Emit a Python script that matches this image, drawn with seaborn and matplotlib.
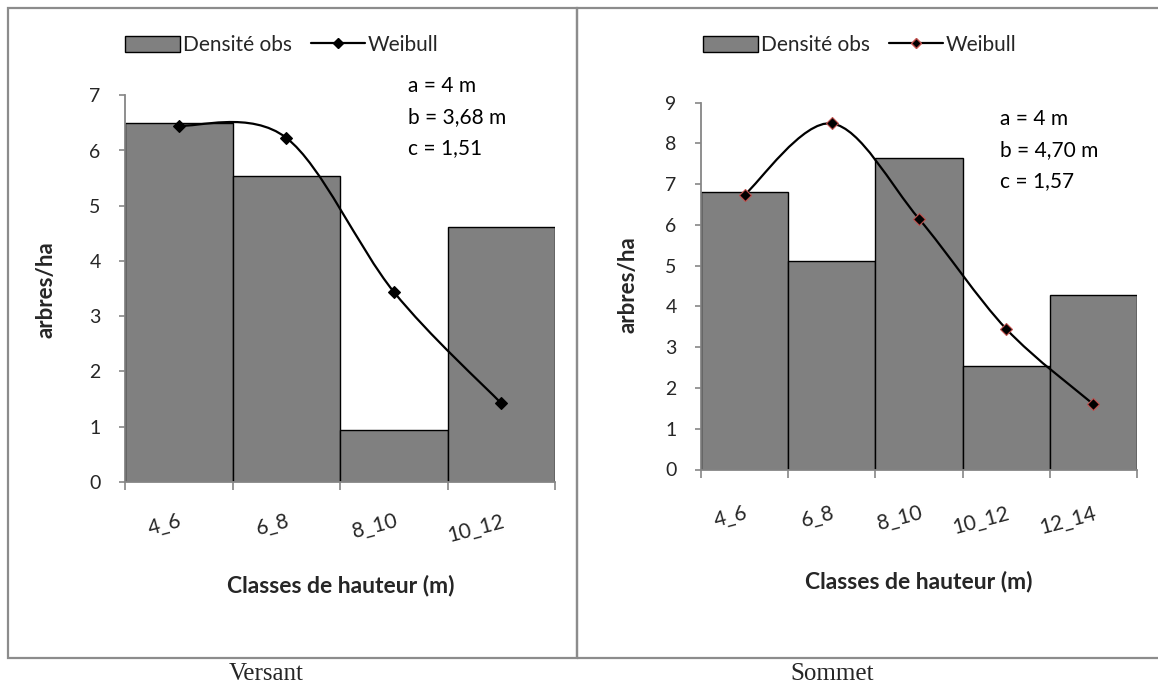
import numpy as np
import pandas as pd
import matplotlib
matplotlib.use("Agg")
import matplotlib.pyplot as plt
from matplotlib.path import Path
from matplotlib.patches import PathPatch, Patch, Rectangle
from matplotlib.lines import Line2D
import seaborn as sns

# -----------------
# data
# -----------------
classes_versant = ["4_6", "6_8", "8_10", "10_12"]
obs_versant = [6.49, 5.54, 0.94, 4.62]
weib_versant = [6.45, 6.23, 3.44, 1.42]
params_versant = ["a = 4 m", "b = 3,68 m", "c = 1,51"]

classes_sommet = ["4_6", "6_8", "8_10", "10_12", "12_14"]
obs_sommet = [6.81, 5.12, 7.65, 2.55, 4.27]
weib_sommet = [6.74, 8.49, 6.15, 3.45, 1.60]
params_sommet = ["a = 4 m", "b = 4,70 m", "c = 1,57"]

captions = ["Versant", "Sommet"]

sns.set_theme(style="white")
plt.rcParams["font.family"] = ["Lato", "DejaVu Sans"]

BAR_GREY = "#808080"
AXIS_GREY = "#868686"


def smooth_path(xs, ys):
    # courbe lissée façon Excel : Bézier cubique (Catmull-Rom) entre les points
    pts = np.column_stack([xs, ys]).astype(float)
    n = len(pts)
    verts = [pts[0]]
    codes = [Path.MOVETO]
    for i in range(n - 1):
        p_prev = pts[max(i - 1, 0)]
        p0, p1 = pts[i], pts[i + 1]
        p_next = pts[min(i + 2, n - 1)]
        c1 = p0 + (p1 - p_prev) / 6.0
        c2 = p1 - (p_next - p0) / 6.0
        verts += [c1, c2, p1]
        codes += [Path.CURVE4] * 3
    return Path(verts, codes)


def draw_panel(ax, classes, obs, weib, params, ymax, mk_edge, xpad, txt_pos):
    df = pd.DataFrame({"classe": classes, "obs": obs})
    sns.barplot(data=df, x="classe", y="obs", ax=ax, color=BAR_GREY,
                saturation=1, width=1.0, edgecolor="black", linewidth=1.0)
    xs = np.arange(len(classes))
    ax.add_patch(PathPatch(smooth_path(xs, weib), fill=False,
                           edgecolor="black", linewidth=1.6, zorder=4))
    ax.plot(xs, weib, linestyle="none", marker="D", markersize=6.5,
            markerfacecolor="black", markeredgecolor=mk_edge,
            markeredgewidth=0.8, zorder=5)

    ax.set_xlim(-0.5, len(classes) - 0.5)
    ax.set_ylim(0, ymax)
    ax.set_yticks(range(ymax + 1))
    ax.set_xticks(np.arange(len(classes) + 1) - 0.5)
    ax.set_xticklabels([])
    ax.set_xticks(xs, minor=True)
    ax.set_xticklabels(classes, minor=True, rotation=15, ha="right",
                       rotation_mode="anchor", fontsize=15)
    ax.tick_params(axis="x", which="major", direction="out", length=6,
                   width=1.2, color=AXIS_GREY, bottom=True)
    ax.tick_params(axis="x", which="minor", length=0, pad=xpad, bottom=True)
    ax.tick_params(axis="y", direction="out", length=4.5, width=1.2,
                   color=AXIS_GREY, left=True, pad=13, labelsize=14)
    for side in ["top", "right"]:
        ax.spines[side].set_visible(False)
    for side in ["left", "bottom"]:
        ax.spines[side].set_color(AXIS_GREY)
        ax.spines[side].set_linewidth(1.3)
    ax.set_xlabel("")
    ax.set_ylabel("")

    tx, ty0, dy = txt_pos
    for k, s in enumerate(params):
        ax.text(tx, ty0 - k * dy, s, transform=ax.transAxes, fontsize=15,
                ha="left", va="center", color="black")


fig = plt.figure(figsize=(11.58, 6.84), dpi=100)
W, H = 1158.0, 684.0

ax1 = fig.add_axes([125 / W, 1 - 481.7 / H, 430 / W, 386.4 / H])
ax2 = fig.add_axes([701 / W, 1 - 469.5 / H, 436 / W, 366.8 / H])

draw_panel(ax1, classes_versant, obs_versant, weib_versant, params_versant,
           7, "black", 21, (0.658, 1.024, 0.080))
draw_panel(ax2, classes_sommet, obs_sommet, weib_sommet, params_sommet,
           9, "#c0504d", 24, (0.686, 0.956, 0.085))

# titres d'axes
for x_lab, y_lab, x_ylab, y_ylab in [(341, 586, 46, 290), (919, 581, 628, 285)]:
    fig.text(x_lab / W, 1 - y_lab / H, "Classes de hauteur (m)", fontsize=16.5,
             fontweight="bold", ha="center", va="center")
    fig.text(x_ylab / W, 1 - y_ylab / H, "arbres/ha", fontsize=16,
             fontweight="bold", ha="center", va="center", rotation=90)

# légendes
for cx, edge in [(282, "black"), (860, "#c0504d")]:
    handles = [
        Patch(facecolor=BAR_GREY, edgecolor="black", linewidth=1.0),
        Line2D([0], [0], color="black", linewidth=1.6, marker="D",
               markersize=5, markerfacecolor="black", markeredgecolor=edge),
    ]
    fig.legend(handles, ["Densité obs", "Weibull"], loc="center",
               bbox_to_anchor=(cx / W, 1 - 45 / H), ncol=2, frameon=False,
               fontsize=15, handlelength=2.6, handleheight=0.8,
               handletextpad=0.15, columnspacing=0.9)

# cadres des deux panneaux
fig.patches.append(Rectangle((8 / W, 1 - 658 / H), (577 - 8) / W, 650 / H,
                             transform=fig.transFigure, fill=False,
                             edgecolor="#8c8c8c", linewidth=1.6))
fig.patches.append(Rectangle((577 / W, 1 - 658 / H), (1170 - 577) / W, 650 / H,
                             transform=fig.transFigure, fill=False,
                             edgecolor="#8c8c8c", linewidth=1.6, clip_on=False))

# légendes sous les graphiques
for cx, cap in zip([266, 832], captions):
    fig.text(cx / W, 1 - 673.5 / H, cap, fontsize=18, ha="center", va="center",
             family=["Liberation Serif", "DejaVu Serif"])

fig.savefig("out.png", dpi=100)
